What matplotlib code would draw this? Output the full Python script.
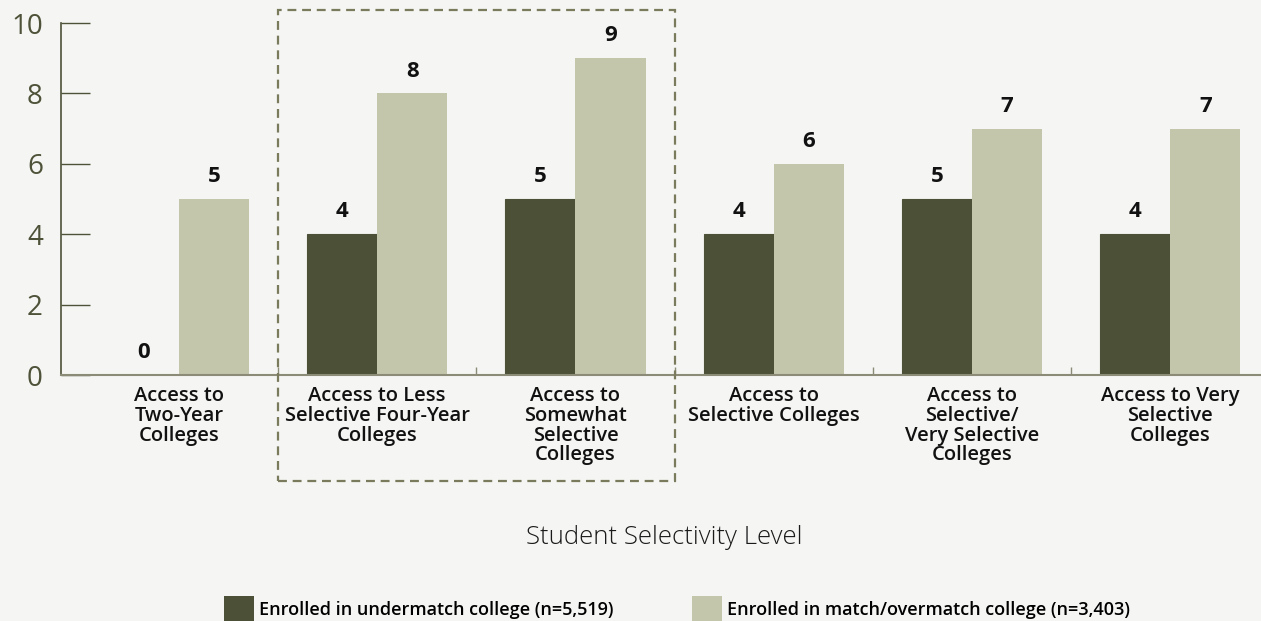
import matplotlib
matplotlib.use("Agg")
import matplotlib.pyplot as plt
from matplotlib.patches import Patch, Rectangle
from matplotlib.transforms import blended_transform_factory
import numpy as np

plt.rcParams['font.family'] = ['Open Sans', 'DejaVu Sans']

categories = [
    "Access to\nTwo-Year\nColleges",
    "Access to Less\nSelective Four-Year\nColleges",
    "Access to\nSomewhat\nSelective\nColleges",
    "Access to\nSelective Colleges",
    "Access to\nSelective/\nVery Selective\nColleges",
    "Access to Very\nSelective\nColleges",
]
undermatch = [0, 4, 5, 4, 5, 4]
match_over = [5, 8, 9, 6, 7, 7]
series_labels = [
    "Enrolled in undermatch college (n=5,519)",
    "Enrolled in match/overmatch college (n=3,403)",
]
yticks = [0, 2, 4, 6, 8, 10]

BG = "#f5f5f3"
DARK = "#4b5036"
LIGHT = "#c3c6aa"
OLIVE = "#4d5238"
AXIS_GREY = "#8b8b78"

fig = plt.figure(figsize=(12.61, 6.21), dpi=100, facecolor=BG)
ax = fig.add_axes([61 / 1261, 246 / 621, 1200 / 1261, 352 / 621])
ax.set_facecolor(BG)

x = np.arange(len(categories))
w = 0.354
b1 = ax.bar(x - w / 2, undermatch, w, color=DARK, edgecolor=DARK, linewidth=0.8)
b2 = ax.bar(x + w / 2, match_over, w, color=LIGHT, linewidth=0)

for bars, vals in ((b1, undermatch), (b2, match_over)):
    for r, v in zip(bars, vals):
        ax.annotate(str(v), (r.get_x() + r.get_width() / 2, v),
                    xytext=(0, 8.5), textcoords="offset points",
                    ha="center", va="bottom", fontsize=16,
                    fontweight="bold", color="#111111")

ax.set_xlim(-0.595, 5.458)
ax.set_ylim(0, 10)
ax.set_yticks(yticks)
ax.tick_params(axis="y", direction="in", length=21, width=1, color=OLIVE,
               labelcolor=OLIVE, labelsize=20, pad=13)
for t in ax.get_yticklabels():
    t.set_fontweight("medium")

ax.set_xticks(x)
ax.set_xticklabels(categories, fontsize=14.5, fontweight="semibold",
                   color="#111111", linespacing=0.98, va="top")
ax.tick_params(axis="x", length=0, pad=8)
ax.set_xticks(x[:-1] + 0.5, minor=True)
ax.tick_params(axis="x", which="minor", direction="in", length=6,
               width=1, color=AXIS_GREY)

for s in ("top", "right"):
    ax.spines[s].set_visible(False)
ax.spines["left"].set_color(OLIVE)
ax.spines["left"].set_linewidth(1.2)
ax.spines["bottom"].set_color(AXIS_GREY)
ax.spines["bottom"].set_linewidth(1.5)

# dashed frame around the two highlighted groups
tr = blended_transform_factory(ax.transData, ax.transAxes)
ax.add_patch(Rectangle((0.5, -0.301), 2.0, 1.338, transform=tr,
                       fill=False, edgecolor="#7a7a5c", linewidth=1.6,
                       linestyle=(0, (4, 2.6)), clip_on=False, zorder=5))

fig.text(664 / 1261, 1 - 544 / 621, "Student Selectivity Level",
         ha="center", va="baseline", fontsize=18.5, fontweight="light",
         color="#1a1a1a")

fs = 13
fpx = fs * 100 / 72
for lab, col, xpos in zip(series_labels, [DARK, LIGHT], [224, 692]):
    fig.legend(handles=[Patch(facecolor=col, edgecolor="none", label=lab)],
               loc="lower left", bbox_to_anchor=(xpos / 1261, -3 / 621),
               frameon=False, borderpad=0, borderaxespad=0,
               handlelength=30 / fpx, handleheight=37 / fpx,
               handletextpad=0.3,
               prop={"size": fs, "weight": "semibold"})

fig.savefig("out.png", dpi=100, facecolor=BG)
